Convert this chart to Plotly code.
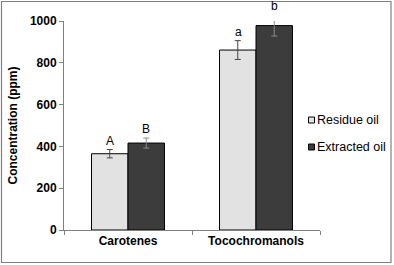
import plotly.graph_objects as go

categories = ["Carotenes", "Tocochromanols"]
residue = [365, 861]
residue_err = [20, 45]
extracted = [416, 978]
extracted_err = [24, 50]
residue_letters = ["A", "a"]
extracted_letters = ["B", "b"]
series_names = ["Residue oil", "Extracted oil"]
series_colors = ["#e2e2e2", "#3c3c3c"]
y_ticks = [0, 200, 400, 600, 800, 1000]
y_max = 1000

W, H = 394, 265
L, R, T, B = 64, 74, 21, 35
pw, ph = W - L - R, H - T - B


def px2x(px):
    return (px - L) / pw


def py2y(py):
    return (H - B - py) / ph


fig = go.Figure()
fig.add_trace(go.Bar(
    x=categories, y=residue, name=series_names[0], showlegend=False,
    marker=dict(color=series_colors[0], line=dict(color="#000000", width=1)),
    error_y=dict(type="data", array=residue_err, color="#444444", thickness=1, width=3),
))
fig.add_trace(go.Bar(
    x=categories, y=extracted, name=series_names[1], showlegend=False,
    marker=dict(color=series_colors[1], line=dict(color="#000000", width=1)),
    error_y=dict(type="data", array=extracted_err, color="#8a8a8a", thickness=1, width=3),
))

for i, c in enumerate(categories):
    fig.add_annotation(x=c, xref="x", yref="paper", y=(residue[i] + residue_err[i]) / y_max,
                       xshift=-18, yshift=0, text=residue_letters[i], showarrow=False,
                       yanchor="bottom", font=dict(family="Arial", size=12, color="#000"))
    fig.add_annotation(x=c, xref="x", yref="paper", y=(extracted[i] + extracted_err[i]) / y_max,
                       xshift=18, yshift=0, text=extracted_letters[i], showarrow=False,
                       yanchor="bottom", font=dict(family="Arial", size=12, color="#000"))

# manual legend
legend_rows = [120, 147]
for name, col, py in zip(series_names, series_colors, legend_rows):
    fig.add_shape(type="rect", xref="paper", yref="paper",
                  x0=px2x(308.5), x1=px2x(314.5), y0=py2y(py + 3), y1=py2y(py - 3),
                  fillcolor=col, line=dict(color="#000000", width=1))
    fig.add_annotation(xref="paper", yref="paper", x=px2x(314.5), y=py2y(py),
                       text=name, showarrow=False, xanchor="left", yanchor="middle",
                       font=dict(family="Arial", size=12.5, color="#000"))

fig.add_shape(type="rect", xref="paper", yref="paper",
              x0=px2x(1.5), x1=px2x(391), y0=py2y(262.5), y1=py2y(1.5),
              line=dict(color="#808080", width=1.2), layer="below")

fig.update_layout(
    width=W, height=H,
    margin=dict(l=L, r=R, t=T, b=B, autoexpand=False),
    paper_bgcolor="white", plot_bgcolor="white",
    barmode="group", bargap=0.43, bargroupgap=0,
    font=dict(family="Arial", size=11, color="#000"),
    showlegend=False,
)
fig.update_xaxes(
    showline=True, linecolor="#808080", linewidth=1,
    ticks="outside", tickson="boundaries", ticklen=4, tickcolor="#808080",
    tickfont=dict(family="Arial", size=12, color="#000", weight="bold"),
    showgrid=False,
)
fig.update_yaxes(
    range=[0, y_max], tickvals=y_ticks,
    showline=True, linecolor="#808080", linewidth=1,
    ticks="outside", ticklen=4, tickcolor="#808080",
    tickfont=dict(family="Arial", size=12, color="#000", weight="bold"),
    showgrid=False, zeroline=False,
    title=dict(text="Concentration (ppm)", standoff=9,
               font=dict(family="Arial", size=12, color="#000", weight="bold")),
)

fig.write_html("out.html")
